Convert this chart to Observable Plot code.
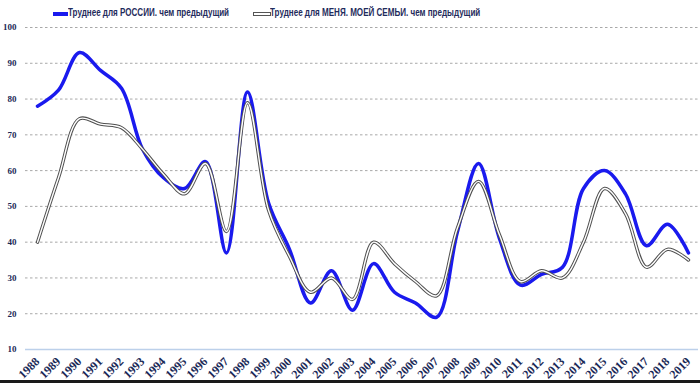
<!DOCTYPE html>
<html>
<head>
<meta charset="utf-8">
<script src="https://cdn.jsdelivr.net/npm/d3@7"></script>
<script src="https://cdn.jsdelivr.net/npm/@observablehq/plot@0.6"></script>
<style>
  body { margin: 0; background: #fff; width: 700px; height: 389px; overflow: hidden; }
  #legend { position: relative; height: 20px; width: 700px; font-family: "Liberation Sans", sans-serif; font-weight: bold; font-size: 11.5px; color: #1f2c5c; }
  #legend .sw { position: absolute; }
  #legend .tx { position: absolute; top: 6px; white-space: nowrap; transform: scaleX(0.7); transform-origin: 0 50%; }
  #chart svg { display: block; }
  #chart .ax text { font-family: "Liberation Serif", serif; font-weight: bold; fill: #1b2a57; }
  #bottomline { height: 3px; background: #1a1a1a; width: 700px; }
</style>
</head>
<body>
<div id="legend"></div>
<div id="chart"></div>
<div id="bottomline"></div>
<script>
const years = [1988,1989,1990,1991,1992,1993,1994,1995,1996,1997,1998,1999,2000,2001,2002,2003,2004,2005,2006,2007,2008,2009,2010,2011,2012,2013,2014,2015,2016,2017,2018,2019];
const russia = [78,82.5,93,88,83,66,58,55,62.5,37,82,51,38,23,32,21,34,26,23,19,43,62,41,28,31,33,55,60,53.5,39,45,37];
const family = [40,58,74.5,73,72,66,59,53.5,62,43,79,49,36,26,30,24,40,34,29,25,44,57,42,29,32,30,40,55,48,33,38,35];
const seriesNames = ["Труднее для РОССИИ. чем предыдущий", "Труднее для МЕНЯ. МОЕЙ СЕМЬИ. чем предыдущий"];
const yTicks = [10,20,30,40,50,60,70,80,90,100];

const rows = years.map((yr, i) => ({year: yr, russia: russia[i], family: family[i]}));

// Legend
const legend = document.getElementById("legend");
legend.innerHTML = `
  <div class="sw" style="left:53px; top:12px; width:15px; height:3.5px; background:#1a1aee;"></div>
  <div class="tx" style="left:68px;">${seriesNames[0]}</div>
  <div class="sw" style="left:253px; top:11.5px; width:16px; height:2px; background:#fff; border:1px solid #555;"></div>
  <div class="tx" style="left:270px;">${seriesNames[1]}</div>
`;

const chart = Plot.plot({
  width: 700,
  height: 360,
  marginTop: 7,
  marginBottom: 31,
  marginLeft: 25,
  marginRight: 2,
  x: {type: "linear", domain: [1988, 2019], range: [37, 688]},
  y: {domain: [10, 100]},
  marks: [
    Plot.gridY(yTicks.filter(d => d !== 10), {stroke: "#a8a8a8", strokeOpacity: 1, strokeDasharray: "2.5,2.5", strokeWidth: 1}),
    Plot.ruleY([10], {stroke: "#bcd0ea", strokeWidth: 1.5}),
    Plot.axisY(yTicks, {tickSize: 0, tickPadding: 9, fontSize: 9, className: "ax", label: null, tickFormat: d => String(d)}),
    Plot.axisX(years, {tickSize: 0, tickRotate: -45, tickPadding: 10, fontSize: 12, className: "ax", label: null, tickFormat: d => String(d)}),
    Plot.line(rows, {x: "year", y: "russia", curve: "catmull-rom", stroke: "#1a1aee", strokeWidth: 3.5}),
    Plot.line(rows, {x: "year", y: "family", curve: "catmull-rom", stroke: "#505050", strokeWidth: 3.4}),
    Plot.line(rows, {x: "year", y: "family", curve: "catmull-rom", stroke: "#ffffff", strokeWidth: 1.4})
  ]
});
document.getElementById("chart").append(chart);
</script>
</body>
</html>
